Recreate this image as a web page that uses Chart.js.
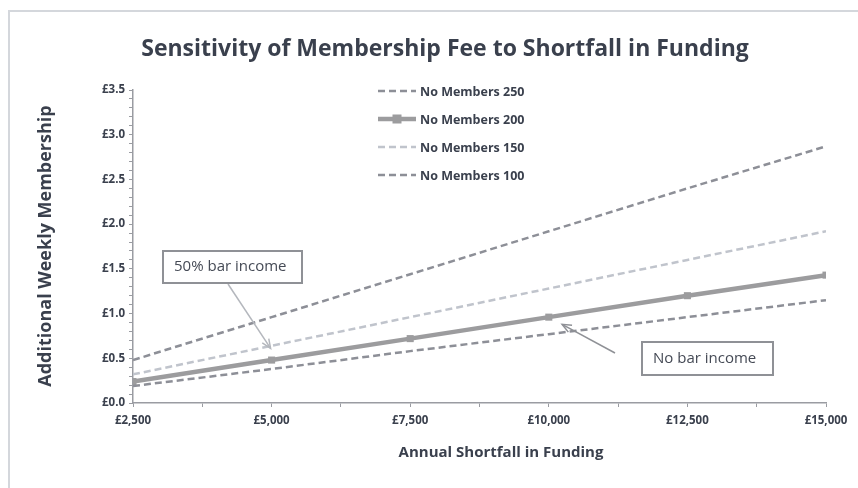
<!DOCTYPE html>
<html>
<head>
<meta charset="utf-8">
<script src="https://cdn.jsdelivr.net/npm/chart.js@4"></script>
<style>
  html, body { margin: 0; padding: 0; background: #fff; }
  #wrap { position: relative; width: 858px; height: 488px; overflow: hidden; }
  #frame { position: absolute; left: 8px; top: 10px; width: 900px; height: 520px; border-left: 2px solid #d4d7dc; border-top: 2px solid #d4d7dc; }
  canvas { position: absolute; left: 0; top: 0; }
</style>
</head>
<body>
<div id="wrap">
  <div id="frame"></div>
  <canvas id="myChart" width="858" height="488"></canvas>
</div>
<script>
// annual shortfall (x) and weekly fee per member count
var shortfall = [2500, 5000, 7500, 10000, 12500, 15000];
var members250 = [0.19, 0.38, 0.58, 0.77, 0.96, 1.15];
var members200 = [0.24, 0.48, 0.72, 0.96, 1.20, 1.43];
var members150 = [0.32, 0.64, 0.96, 1.28, 1.60, 1.92];
var members100 = [0.48, 0.96, 1.44, 1.92, 2.40, 2.87];

var textColor = '#3a404d';
var darkDash = '#8d8f97';
var lightDash = '#c0c4cc';
var solidGrey = '#9c9c9e';

function pts(vals) {
  var out = [];
  for (var i = 0; i < shortfall.length; i++) {
    out.push({ x: shortfall[i], y: vals[i] });
  }
  return out;
}

var dataSource = {
  datasets: [
    { label: 'No Members 250', data: pts(members250), borderColor: darkDash, borderWidth: 2.5, borderDash: [7, 4], pointRadius: 0 },
    { label: 'No Members 200', data: pts(members200), borderColor: solidGrey, backgroundColor: solidGrey, borderWidth: 4.5, pointStyle: 'rect', pointRadius: 5, pointBorderWidth: 0 },
    { label: 'No Members 150', data: pts(members150), borderColor: lightDash, borderWidth: 2.5, borderDash: [7, 4], pointRadius: 0 },
    { label: 'No Members 100', data: pts(members100), borderColor: darkDash, borderWidth: 2.5, borderDash: [7, 4], pointRadius: 0 }
  ]
};

function arrow(ctx, x1, y1, x2, y2, color) {
  ctx.save();
  ctx.strokeStyle = color;
  ctx.lineWidth = 1.5;
  ctx.beginPath();
  ctx.moveTo(x1, y1);
  ctx.lineTo(x2, y2);
  ctx.stroke();
  var a = Math.atan2(y2 - y1, x2 - x1);
  var L = 10;
  ctx.beginPath();
  ctx.moveTo(x2 - L * Math.cos(a - 0.4), y2 - L * Math.sin(a - 0.4));
  ctx.lineTo(x2, y2);
  ctx.lineTo(x2 - L * Math.cos(a + 0.4), y2 - L * Math.sin(a + 0.4));
  ctx.stroke();
  ctx.restore();
}

function noteBox(ctx, x, y, w, h, text) {
  ctx.save();
  ctx.fillStyle = '#fff';
  ctx.fillRect(x, y, w, h);
  ctx.strokeStyle = '#8f9196';
  ctx.lineWidth = 2;
  ctx.strokeRect(x, y, w, h);
  ctx.fillStyle = '#454a55';
  ctx.font = '15px "Open Sans", sans-serif';
  ctx.textAlign = 'left';
  ctx.textBaseline = 'middle';
  ctx.fillText(text, x + 11, y + h / 2);
  ctx.restore();
}

var extras = {
  id: 'extras',
  afterDraw: function (chart) {
    var ctx = chart.ctx;
    var xs = chart.scales.x, ys = chart.scales.y;

    // title
    ctx.save();
    ctx.fillStyle = textColor;
    ctx.font = 'bold 23px "Open Sans", sans-serif';
    ctx.textAlign = 'center';
    ctx.textBaseline = 'middle';
    ctx.fillText('Sensitivity of Membership Fee to Shortfall in Funding', 445, 49);

    // axis titles
    ctx.font = 'bold 15px "Open Sans", sans-serif';
    ctx.fillText('Annual Shortfall in Funding', 501, 453);
    ctx.translate(46, 246);
    ctx.rotate(-Math.PI / 2);
    ctx.font = 'bold 18px "Open Sans", sans-serif';
    ctx.fillText('Additional Weekly Membership', 0, 0);
    ctx.restore();

    // legend
    ctx.save();
    var lx = 378, ly = 91, gap = 28;
    chart.data.datasets.forEach(function (ds, i) {
      var y = ly + i * gap;
      ctx.strokeStyle = ds.borderColor;
      ctx.lineWidth = ds.borderWidth;
      ctx.setLineDash(ds.borderDash || []);
      ctx.beginPath();
      ctx.moveTo(lx, y);
      ctx.lineTo(lx + 38, y);
      ctx.stroke();
      ctx.setLineDash([]);
      if (ds.pointRadius) {
        ctx.fillStyle = ds.borderColor;
        ctx.fillRect(lx + 19 - 4.5, y - 4.5, 9, 9);
      }
      ctx.fillStyle = textColor;
      ctx.font = 'bold 12.5px "Open Sans", sans-serif';
      ctx.textAlign = 'left';
      ctx.textBaseline = 'middle';
      ctx.fillText(ds.label, lx + 42, y + 1);
    });
    ctx.restore();

    // annotations
    arrow(ctx, 228, 284, xs.getPixelForValue(5000) - 1, ys.getPixelForValue(0.61), '#b4b7bd');
    noteBox(ctx, 163, 251, 139, 32, '50% bar income');
    arrow(ctx, 615, 353, xs.getPixelForValue(10240), ys.getPixelForValue(0.88), '#8f9196');
    noteBox(ctx, 642, 342, 131, 33, 'No bar income');
  }
};

var ctx = document.getElementById('myChart').getContext('2d');
var myChart = new Chart(ctx, {
  type: 'line',
  data: dataSource,
  options: {
    responsive: false,
    animation: false,
    layout: { padding: { left: 93, right: 32, top: 90, bottom: 0 } },
    plugins: { legend: { display: false }, tooltip: { enabled: false } },
    scales: {
      x: {
        type: 'linear',
        min: 2500,
        max: 15000,
        afterFit: function (s) { s.height = 85; },
        afterBuildTicks: function (s) {
          var t = [];
          for (var v = 2500; v <= 15000; v += 1250) t.push({ value: v });
          s.ticks = t;
        },
        ticks: {
          autoSkip: false,
          maxRotation: 0,
          padding: 7,
          color: textColor,
          font: { family: '"Open Sans", sans-serif', size: 11.5, weight: 'bold' },
          callback: function (v) {
            if (v % 2500 !== 0) return '';
            return '£' + v.toLocaleString('en-GB');
          }
        },
        grid: { drawOnChartArea: false, tickLength: 4, color: '#9a9ca2' },
        border: { color: '#9a9ca2', width: 1.5 }
      },
      y: {
        min: 0,
        max: 3.5,
        afterFit: function (s) { s.width = 40; },
        afterBuildTicks: function (s) {
          var t = [];
          for (var i = 0; i <= 35; i++) t.push({ value: i / 10 });
          s.ticks = t;
        },
        ticks: {
          autoSkip: false,
          padding: 4,
          color: textColor,
          font: { family: '"Open Sans", sans-serif', size: 11.5, weight: 'bold' },
          callback: function (v) {
            var r = Math.round(v * 10);
            if (r % 5 !== 0) return '';
            return '£' + (r / 10).toFixed(1);
          }
        },
        grid: { drawOnChartArea: false, tickLength: 4, color: '#9a9ca2' },
        border: { color: '#9a9ca2', width: 1.5 }
      }
    }
  },
  plugins: [extras]
});
</script>
</body>
</html>
